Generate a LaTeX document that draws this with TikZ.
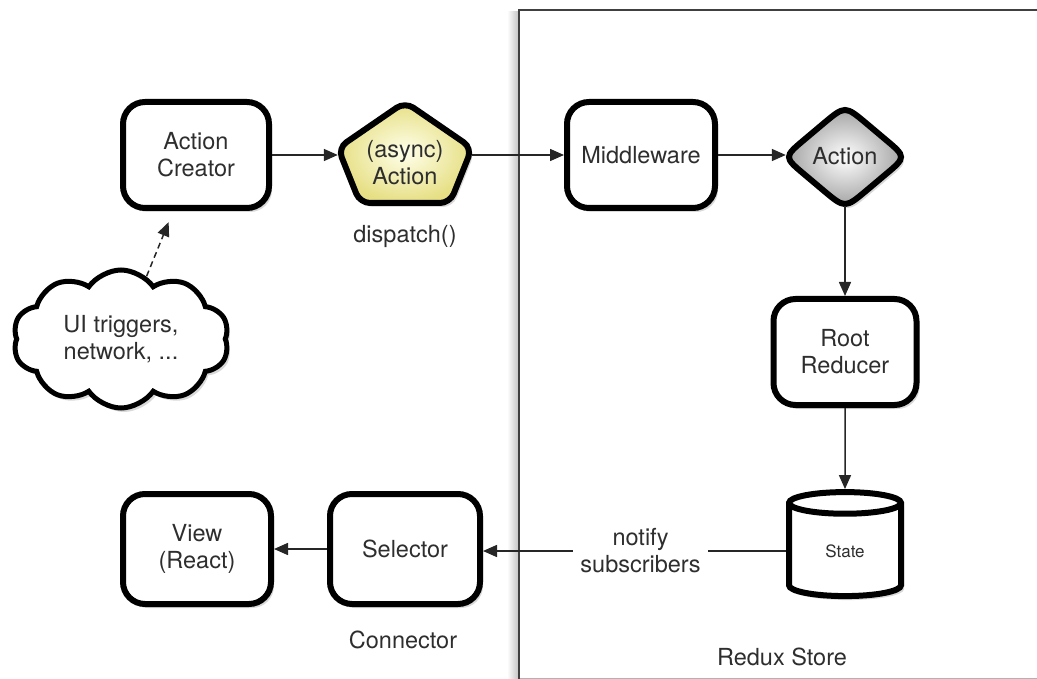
\documentclass[tikz,border=0pt]{standalone}
\usepackage{fontspec}
\setmainfont{TeX Gyre Heros}
\usetikzlibrary{shapes.geometric,shapes.symbols,arrows.meta,shadows}
\definecolor{txt}{HTML}{2E2E2E}
\definecolor{yel}{HTML}{E6DF84}
\begin{document}
\begin{tikzpicture}[x=1pt,y=-1pt,
  mainfont/.style={font=\fontsize{23.5}{27}\selectfont},
  shad/.style={drop shadow={shadow xshift=3pt, shadow yshift=-4pt, opacity=0.3}},
  box/.style={draw, line width=6pt, rounded corners=22pt, fill=white, align=center,
    text=txt, mainfont, inner sep=0pt, shad},
  holder/.style={inner sep=0pt, align=center, text=txt, mainfont},
  conn/.style={line width=1.5pt, draw=black!85, -{Triangle[length=14pt,width=12pt]}},
  dconn/.style={conn, dash pattern=on 6pt off 4pt},
  lbl/.style={text=txt, mainfont, align=center, inner sep=2pt}]
\useasboundingbox (0,0) rectangle (1037,679);
% Redux Store frame
\shade[left color=white, right color=black!22] (507,12) rectangle (518,679);
\draw[line width=1pt, black!30] (519,678) -- (1037,678);
\draw[line width=2.5pt, black!75] (1040,10) -- (519,10) -- (519,682);
% nodes
\node[box, minimum width=146pt, minimum height=106pt] (ac) at (196,155) {Action\\Creator};
\node[holder, minimum width=134pt, minimum height=101pt] (async) at (405,155) {};
\path[draw, line width=6pt, rounded corners=10pt, shade, shading=radial,
  inner color=yellow!8!white, outer color=yel, shad]
  (405,203) -- (450,203) -- (472,148) -- (405,102) -- (338,148) -- (360,203) -- cycle;
\node[holder] (asynctxt) at (405,163) {(async)\\Action};
\node[lbl] (dispatch) at (405,236) {dispatch()};
\node[box, minimum width=148pt, minimum height=106pt] (mw) at (641,155) {Middleware};
% rounded diamond
\path[draw, line width=6pt, shade, shading=radial,
  inner color=white, outer color=black!38, shad]
  (823.5,123.5)
  .. controls (845,105.5) .. (866.5,123.5)
  -- (884.9,139.0)
  .. controls (906.4,157) .. (884.9,175.0)
  -- (866.5,190.5)
  .. controls (845,208.5) .. (823.5,190.5)
  -- (805.1,175.0)
  .. controls (783.6,157) .. (805.1,139.0)
  -- cycle;
\node[holder, minimum width=118pt, minimum height=100pt] (act) at (845,156) {Action};
\node[box, minimum width=143pt, minimum height=106pt] (root) at (845,352) {Root\\Reducer};
\node[cylinder, shape border rotate=90, draw, line width=6pt, aspect=0.55,
  minimum width=112pt, minimum height=104pt, fill=white, shad, inner sep=0pt,
  text=txt, font=\fontsize{17}{20}\selectfont] (state) at (845,551) {State};
\node[box, minimum width=150pt, minimum height=110pt] (sel) at (405,549) {Selector};
\node[box, minimum width=148pt, minimum height=110pt] (view) at (197,549) {View\\(React)};
\node[cloud, draw, line width=5pt, cloud puffs=10, cloud puff arc=110, aspect=1.6,
  minimum width=216pt, minimum height=138pt, fill=white, shad, inner sep=0pt,
  align=center, text=txt, mainfont] (cloud) at (121,339) {UI triggers,\\network, ...};
\node[lbl] (connector) at (403,640) {Connector};
\node[lbl] (store) at (782,657) {Redux Store};
% connectors
\draw[conn] (ac.east) -- (async.west);
\draw[conn] (async.east) -- (mw.west);
\draw[conn] (mw.east) -- (mw.east -| act.west);
\draw[conn] (act.south) -- (root.north);
\draw[conn] (root.south) -- (state.north);
\draw[conn] (state.west) -- node[lbl, fill=white, pos=0.48, inner xsep=7pt] {notify\\subscribers} (sel.east |- state.west);
\draw[conn] (sel.west) -- (view.east);
\draw[dconn, shorten >=12pt] (cloud) -- (ac);
\end{tikzpicture}
\end{document}
